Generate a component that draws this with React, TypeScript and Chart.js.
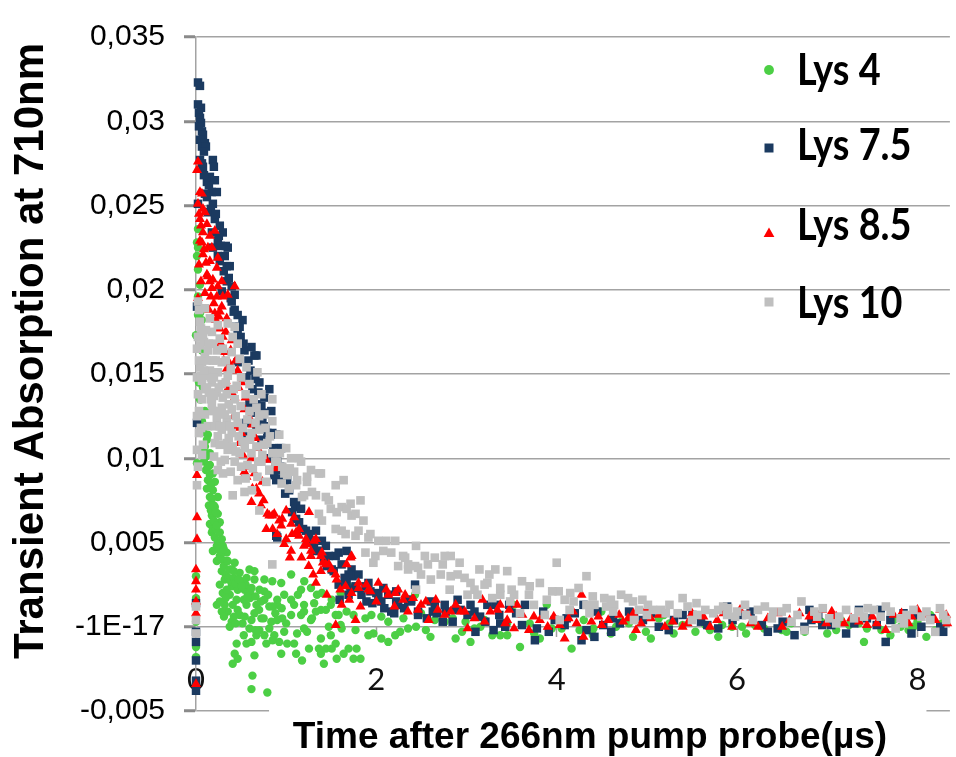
import React, { useEffect, useRef } from 'react';
import { Chart, registerables } from 'chart.js';

Chart.register(...registerables);

const seriesNames = ['Lys 4', 'Lys 7.5', 'Lys 8.5', 'Lys 10'];
const yTickValues = [-0.005, 0, 0.005, 0.01, 0.015, 0.02, 0.025, 0.03, 0.035];
const yTickLabels = ['-0,005', '-1E-17', '0,005', '0,01', '0,015', '0,02', '0,025', '0,03', '0,035'];
const xTickValues = [0, 2, 4, 6, 8];
const xTickLabels = ['0', '2', '4', '6', '8'];
const xMinorTicks = [2, 4, 6, 8];
const xTitle = 'Time after 266nm pump probe(\u00b5s)';
const yTitle = 'Transient Absorption at 710nm';

// [time (µs), absorption]
const lys4: [number, number][] = [
  [0, 0.003], [0, -0.0012], [0, 0.0017], [0, 0.0003], [0, -0.0018], [0.011, 0.0097],
  [0.022, 0.0236], [0.011, 0.0228], [0.022, 0.0225], [0.011, 0.022], [0.022, 0.0212], [0.044, 0.0203],
  [0.022, 0.0196], [0.022, 0.0185], [0.044, 0.0186], [0.066, 0.0182], [0, 0.0173], [0.044, 0.0165],
  [0.066, 0.0164], [0.099, 0.016], [0.077, 0.0142], [0.099, 0.0128], [0.066, 0.0122], [0.132, 0.0114],
  [0.121, 0.0111], [0.099, 0.0107], [0.154, 0.0103], [0.154, 0.0096], [0.187, 0.0091], [0.154, 0.009],
  [0.209, 0.0086], [0.132, 0.0087], [0.187, 0.0081], [0.242, 0.0077], [0.154, 0.0077], [0.209, 0.0071],
  [0.242, 0.0067], [0.176, 0.0066], [0.154, 0.0061], [0.264, 0.0062], [0.176, 0.0056], [0.209, 0.0053],
  [0.264, 0.0056], [0.231, 0.0048], [0.297, 0.0048], [0.187, 0.0045], [0.264, 0.0042], [0.341, 0.0044],
  [0.231, 0.0039], [0.319, 0.0039], [0.429, 0.0038], [0.286, 0.0033], [0.396, 0.0034], [0.484, 0.0032],
  [0.319, 0.0028], [0.593, 0.0034], [0.648, 0.0033], [0.264, 0.0025], [0.396, 0.0024], [0.462, 0.0022],
  [0.538, 0.0022], [0.297, 0.002], [0.374, 0.0019], [0.231, 0.0013], [0.319, 0.0013], [0.407, 0.0013],
  [0.462, 0.001], [0.56, 0.0013], [0.67, 0.0013], [0.758, 0.0016], [0.352, 0.0009], [0.484, 0.0007],
  [0.648, 0.0008], [0.813, 0.0012], [0.901, 0.0013], [0.396, 0.0003], [0.516, 0.0002], [0.615, 0.0004],
  [0.725, 0.0005], [0.835, 0.0003], [0.956, 0.0005], [1.055, 0.0007], [0.374, 0.0], [0.593, -0.0001],
  [0.703, -0.0002], [0.813, -0.0001], [0.67, -0.0005], [0.758, -0.0005], [0.868, -0.0005], [0.978, -0.0003],
  [1.121, -0.0004], [1.198, -0.0001], [1.275, 0.0004], [1.165, 0.0007], [1.198, 0.0013], [0.846, 0.0027],
  [0.758, 0.0028], [0.648, 0.0028], [1.055, 0.0031], [0.758, 0.0021], [0.901, 0.0016], [0.978, 0.0019],
  [1.088, 0.0013], [0.451, -0.001], [0.56, -0.001], [0.615, -0.0009], [0.78, -0.001], [0.923, -0.0009],
  [1.011, -0.001], [0.429, -0.0016], [0.462, -0.0019], [0.407, -0.0022], [0.648, -0.0017], [0.945, -0.0016],
  [1.11, -0.0016], [1.176, -0.002], [1.385, -0.0007], [1.495, -0.0005], [1.44, -0.0013], [1.549, -0.001],
  [1.385, -0.0016], [1.418, -0.0022], [0.626, -0.0029], [0.615, -0.0037], [0.791, -0.0039], [0.945, 0.0026],
  [1.055, 0.0016], [1.275, 0.0023], [1.341, 0.0019], [1.385, 0.001], [1.495, 0.0013], [1.549, 0.0007],
  [1.604, 0.0001], [1.165, 0.0022], [1.198, 0.0009], [1.286, 0.0005], [1.231, -0.0003], [1.088, -0.001],
  [1.253, -0.0013], [1.363, -0.0013], [1.505, -0.0013], [1.692, -0.0013], [1.56, -0.0019], [1.637, -0.0016],
  [1.747, -0.0019], [1.78, -0.0013], [1.824, -0.0019], [1.396, 0.002], [1.505, 0.0016], [1.604, 0.002],
  [1.692, 0.0024], [1.33, 0.0009], [1.44, 0.001], [1.582, 0.0007], [1.67, 0.0009], [1.747, 0.0007],
  [1.879, 0.0005], [1.945, 0.0007], [2.055, 0.0006], [2.132, 0.0003], [1.473, 0.0], [1.615, -0.0001],
  [1.769, -0.0002], [1.912, -0.0005], [2.209, -0.0005], [2.352, -0.0001], [2.44, 0.0], [2.549, -0.0002],
  [2.648, 0.0004], [2.758, 0.0003], [2.846, 0.0005], [2.989, 0.0003], [3.088, -0.0001], [3.154, 0.0],
  [3.286, -0.0005], [3.374, -0.0005], [3.451, -0.0005], [2.879, -0.0007], [3.044, -0.0009], [2.055, -0.0007],
  [2.132, -0.0009], [2.264, -0.0003], [2.495, 0.0008], [2.429, 0.0019], [1.967, -0.0004], [3.527, 0.0013],
  [3.89, 0.0013], [3.593, -0.0012], [3.813, -0.0007], [3.945, -0.0001], [4.055, -0.0001], [4.165, -0.0013],
  [4.253, -0.0002], [4.407, -0.0001], [4.495, 0.0009], [4.659, 0.0], [4.714, 0.0003], [4.846, -0.0006],
  [4.989, -0.0003], [5.044, -0.0007], [5.132, 0.0005], [5.187, 0.0007], [5.297, -0.0004], [5.396, 0.0001],
  [5.538, -0.0003], [5.648, 0.0001], [5.791, -0.0006], [5.835, 0.0001], [5.022, 0.0009], [5.945, 0.0],
  [6.055, 0.0], [6.198, 0.0001], [6.385, 0.0006], [6.495, -0.0002], [6.549, -0.0003], [6.835, 0.0005],
  [6.934, 0.0003], [7.099, -0.0002], [7.242, 0.0001], [7.407, -0.0009], [7.44, -0.0001], [7.736, 0.0004],
  [7.813, 0.0], [7.901, -0.0002], [7.956, 0.0], [8.099, -0.0006], [8.143, 0.0007], [3.7, 0.0002],
  [4.3, 0.0004], [4.6, -0.0004], [6.3, -0.0001], [7.0, -0.0004], [7.6, -0.0002], [8.27, 0.0002],
  [0.033, 0.0145], [0.044, 0.0135], [0.055, 0.0115], [0.077, 0.0105], [0.088, 0.0098], [0.11, 0.0093],
  [0.121, 0.0082], [0.143, 0.0072], [0.165, 0.0069], [0.187, 0.0058], [0.198, 0.0063], [0.22, 0.0058],
  [0.242, 0.0051], [0.253, 0.0046], [0.275, 0.0044], [0.286, 0.004], [0.308, 0.0036], [0.33, 0.0031],
  [0.363, 0.0029], [0.385, 0.0027], [0.418, 0.0029], [0.44, 0.0026], [0.5, 0.0027], [0.55, 0.0025],
  [0.6, 0.0021], [0.53, 0.0016], [0.6, 0.0017], [0.7, 0.001], [0.75, 0.0005], [0.88, 0.0008],
  [0.95, 0.0011], [1.0, 0.0002], [0.264, 0.0015], [0.286, 0.0009], [0.33, 0.0017], [0.42, 0.0006],
  [0.45, 0.0016],
  [0.055, 0.0135], [0.088, 0.0118], [0.11, 0.0101], [0.132, 0.0095], [0.165, 0.0084], [0.176, 0.0076],
  [0.198, 0.0072], [0.22, 0.0068], [0.231, 0.006], [0.286, 0.0052], [0.308, 0.0046], [0.352, 0.0039],
  [0.374, 0.0034], [0.418, 0.0033], [0.473, 0.0028], [0.506, 0.0024], [0.561, 0.0029], [0.616, 0.0023],
  [0.66, 0.0018], [0.704, 0.0022], [0.72, 0.0015], [0.8, 0.0019], [0.85, 0.0012], [0.9, 0.0004],
  [1.13, 0.0019], [1.2, 0.0027], [1.31, 0.0014], [0.34, 0.0022], [0.31, 0.0006], [0.44, 0.0002],
  [0.54, 0.0006], [0.66, -0.0002], [0.85, -0.0008], [0.53, -0.0005], [0.57, 0.0018],
  [2.3, 0.0005], [2.6, -0.0006], [2.95, -0.0003], [3.2, 0.0004], [3.45, 0.0002], [3.75, -0.0004],
  [4.0, 0.0004], [4.4, -0.0005], [4.8, 0.0002], [5.25, 0.0002], [5.7, -0.0002], [6.1, -0.0004],
  [6.6, 0.0002], [6.75, -0.0003], [7.15, 0.0004], [7.35, 0.0002], [7.7, -0.0005], [8.0, 0.0003],
  [8.2, -0.0002],
];

const lys75: [number, number][] = [
  [0, 0.0014], [0, -0.0003], [0, -0.0009], [0, -0.002], [0, -0.0032], [0, -0.0038], [0.011, 0.0121], [0.011, 0.019],
  [0.022, 0.0323], [0.044, 0.0321], [0.022, 0.031], [0.055, 0.0308], [0.033, 0.0305], [0.044, 0.0302],
  [0.055, 0.0299], [0.066, 0.0294], [0.077, 0.0292], [0.044, 0.0289], [0.099, 0.0287], [0.066, 0.0285],
  [0.11, 0.0285], [0.088, 0.0282], [0.044, 0.0277], [0.187, 0.0277], [0.198, 0.0273], [0.077, 0.0273],
  [0.154, 0.0267], [0.121, 0.0264], [0.209, 0.0265], [0.176, 0.0258], [0.231, 0.0258], [0.099, 0.0257],
  [0.187, 0.0251], [0.022, 0.0251], [0.132, 0.0246], [0.209, 0.0242], [0.264, 0.0238], [0.297, 0.0234],
  [0.176, 0.0234], [0.242, 0.0229], [0.352, 0.0225], [0.187, 0.0225], [0.319, 0.022], [0.242, 0.022],
  [0.341, 0.0214], [0.264, 0.0217], [0.396, 0.0202], [0.341, 0.0205], [0.429, 0.0197], [0.286, 0.0199],
  [0.374, 0.0214], [0.396, 0.0193], [0.516, 0.0182], [0.462, 0.0185], [0.462, 0.0173], [0.538, 0.0164],
  [0.648, 0.0161], [0.462, 0.0157], [0.56, 0.0148], [0.813, 0.0141], [0.626, 0.0141], [0.67, 0.0132],
  [0.725, 0.0131], [0.835, 0.0128], [0.56, 0.0121], [0.67, 0.0119], [0.846, 0.0115], [0.78, 0.0109],
  [0.945, 0.0106], [0.813, 0.01], [0.956, 0.0093], [0.868, 0.009], [1.011, 0.0087], [0.978, 0.0086],
  [0.89, 0.0087], [1.088, 0.0074], [1.099, 0.0071], [1.11, 0.0064], [0.901, 0.0053], [1.22, 0.0057],
  [1.286, 0.0051], [1.396, 0.0051], [1.341, 0.0045], [1.44, 0.0048], [1.582, 0.0044], [1.67, 0.0045],
  [1.549, 0.0042], [1.615, 0.0037], [1.725, 0.0034], [1.736, 0.003], [1.802, 0.0031], [1.879, 0.0024],
  [1.582, 0.0025], [1.67, 0.0026], [1.769, 0.0024], [1.912, 0.0026], [2.0, 0.002], [2.077, 0.0023],
  [2.132, 0.0019], [2.22, 0.0021], [2.429, 0.0025], [1.593, 0.0016], [1.692, 0.0019], [1.89, 0.0015],
  [2.055, 0.0015], [2.242, 0.0013], [2.352, 0.0016], [2.385, 0.0015], [2.165, 0.0009], [2.462, 0.0009],
  [2.604, 0.0015], [2.648, 0.0013], [2.758, 0.0013], [2.769, 0.0009], [2.736, 0.0003], [2.846, 0.0003],
  [2.901, 0.0016], [2.934, 0.001], [3.044, 0.0013], [3.088, 0.0009], [3.099, -0.0003], [3.209, 0.0003],
  [3.231, 0.0013], [3.319, 0.0013], [3.363, 0.0007], [3.374, 0.0002], [3.429, 0.0], [3.473, 0.0013],
  [3.615, 0.0001], [3.648, 0.0013], [3.78, -0.0001], [3.758, -0.0008], [3.912, -0.0003], [3.978, 0.0004],
  [4.088, 0.0001], [4.11, 0.0005], [4.297, 0.0013], [4.275, -0.0008], [4.33, -0.0002], [4.418, -0.0006],
  [4.516, 0.0001], [4.604, -0.0003], [4.626, 0.0005], [4.802, 0.0009], [4.857, 0.0006], [4.956, 0.0004],
  [5.132, 0.0], [5.242, -0.0002], [5.396, 0.0007], [5.505, 0.0007], [5.67, 0.0001], [5.791, -0.0001],
  [5.89, 0.0012], [6.055, 0.0007], [6.275, 0.0001], [6.341, -0.0003], [6.505, 0.0003], [6.637, -0.0005],
  [6.747, 0.0], [6.802, 0.001], [6.824, 0.0004], [6.945, 0.0001], [7.044, 0.0001], [7.209, -0.0004],
  [7.352, 0.001], [7.44, 0.0005], [7.549, 0.0001], [7.593, 0.001], [7.648, -0.0009], [7.846, 0.0008],
  [7.934, -0.0004], [7.989, 0.0007], [8.044, 0.0], [8.253, 0.0], [8.286, -0.0003],
  [0.571, 0.0113], [0.725, 0.0111], [0.791, 0.0115], [0.923, 0.0106], [0.956, 0.0088], [1.11, 0.0073],
  [1.165, 0.007], [0.89, 0.0054], [1.33, 0.0057], [1.363, 0.0045], [1.473, 0.0042], [1.505, 0.0034],
  [1.692, 0.0031], [1.769, 0.0023], [1.934, 0.0021], [2.022, 0.0019], [2.22, 0.0015], [2.385, 0.0016],
  [2.462, 0.0007], [2.626, 0.0009], [2.879, 0.001], [3.011, 0.0007], [0.429, 0.0188], [0.484, 0.0178],
  [0.615, 0.0166], [0.67, 0.0161], [0.703, 0.0145], [0.758, 0.0136], [0.593, 0.0132], [0.67, 0.0127],
  [0.736, 0.0123], [0.89, 0.0114], [0.901, 0.01], [0.813, 0.0093],
  [0.033, 0.0297], [0.066, 0.0275], [0.088, 0.0268], [0.121, 0.0255], [0.143, 0.0262], [0.165, 0.0248],
  [0.22, 0.0245], [0.253, 0.0232], [0.275, 0.0226], [0.308, 0.0211], [0.33, 0.0226], [0.363, 0.0207],
  [0.385, 0.0195], [0.418, 0.0187], [0.44, 0.0178], [0.495, 0.0172], [0.527, 0.0168], [0.582, 0.0158],
  [0.604, 0.0152], [0.659, 0.0147], [0.692, 0.0139], [0.747, 0.0127], [0.769, 0.0119], [0.857, 0.0106],
  [0.879, 0.0098], [0.934, 0.0095], [0.989, 0.0079], [1.033, 0.0081], [1.066, 0.0068], [1.143, 0.0062],
  [1.187, 0.0058], [1.253, 0.0055], [1.308, 0.0047], [1.418, 0.0041], [1.451, 0.0036], [1.527, 0.0033],
  [1.648, 0.0029], [1.714, 0.0022], [1.835, 0.0019], [1.956, 0.0014], [2.088, 0.0011], [2.198, 0.0008],
  [2.308, 0.0011], [2.56, 0.0005], [2.67, 0.0008],
  [3.15, 0.0006], [3.3, -0.0002], [3.55, 0.0008], [3.85, 0.0009], [4.2, 0.0008], [4.45, 0.0009],
  [4.7, 0.0002], [5.05, 0.0008], [5.3, 0.0004], [5.6, 0.0003], [5.95, 0.0004], [6.15, 0.0009],
  [6.45, -0.0001], [6.9, 0.0007], [7.1, 0.0005], [7.3, 0.0002], [7.7, 0.0004], [8.15, 0.0005],
];

const lys85: [number, number][] = [
  [0, 0.0034], [0, 0.0027], [0, 0.0022], [0, 0.0015], [0, 0.0008], [0, -0.0034], [0.011, 0.009],
  [0.022, 0.0276], [0.011, 0.0271], [0.044, 0.0258], [0.066, 0.0257], [0.022, 0.0251], [0.077, 0.0248],
  [0.099, 0.0246], [0.044, 0.0242], [0.121, 0.0239], [0.077, 0.0234], [0.154, 0.0232], [0.209, 0.0235],
  [0.044, 0.0229], [0.132, 0.0225], [0.176, 0.0225], [0.077, 0.0221], [0.242, 0.0219], [0.154, 0.0217],
  [0.231, 0.0213], [0.121, 0.0209], [0.187, 0.0206], [0.286, 0.0205], [0.429, 0.0202], [0.242, 0.0202],
  [0.352, 0.0197], [0.297, 0.0196], [0.231, 0.0196], [0.286, 0.019], [0.209, 0.0186], [0.341, 0.0183],
  [0.264, 0.0177], [0.297, 0.0172], [0.396, 0.017], [0.319, 0.0163], [0.374, 0.0156], [0.341, 0.0153],
  [0.462, 0.0152], [0.505, 0.0145], [0.429, 0.0136], [0.538, 0.0129], [0.593, 0.0124], [0.626, 0.012],
  [0.505, 0.0115], [0.681, 0.0106], [0.615, 0.01], [0.78, 0.0099], [0.538, 0.009], [0.89, 0.0094],
  [0.56, 0.0089], [0.626, 0.0082], [0.615, 0.0074], [0.813, 0.0066], [0.868, 0.0067], [0.956, 0.0064],
  [1.088, 0.0065], [0.945, 0.006], [1.066, 0.0055], [1.143, 0.0058], [1.253, 0.0068], [0.978, 0.0049],
  [1.055, 0.0045], [1.231, 0.0049], [1.308, 0.0051], [1.143, 0.0054], [1.198, 0.0048], [1.33, 0.0052],
  [1.396, 0.0044], [1.275, 0.0042], [1.407, 0.0038], [1.473, 0.0037], [1.714, 0.0041], [1.505, 0.0034],
  [1.385, 0.0033], [1.33, 0.0026], [1.56, 0.0028], [1.67, 0.0037], [1.725, 0.0042], [1.451, 0.0019],
  [1.725, 0.002], [1.802, 0.0023], [1.89, 0.0025], [2.022, 0.0026], [1.934, 0.0021], [2.132, 0.0019],
  [2.242, 0.0022], [2.297, 0.0016], [2.407, 0.0017], [1.615, 0.0013], [1.824, 0.0012], [2.495, 0.0013],
  [2.659, 0.0016], [2.758, 0.0007], [2.824, 0.0009], [2.879, 0.0013], [3.011, -0.0001], [3.088, 0.0005],
  [3.176, 0.0016], [3.264, 0.0009], [3.341, 0.001], [3.429, 0.0002], [3.527, -0.0001], [1.549, 0.0001],
  [1.769, 0.0004], [3.374, 0.0013], [3.473, 0.001], [3.56, 0.0013], [3.451, 0.0004], [3.692, -0.0002],
  [3.747, 0.0006], [3.813, 0.0004], [3.967, 0.0006], [4.033, 0.0001], [4.088, -0.0007], [4.132, 0.0005],
  [4.22, 0.0002], [4.275, 0.0019], [4.297, -0.0006], [4.385, 0.0003], [4.462, 0.0006], [4.571, 0.0004],
  [4.692, 0.0007], [4.736, 0.0003], [4.791, 0.0005], [4.879, -0.0002], [4.934, 0.0002], [4.989, 0.001],
  [5.044, 0.0005], [5.132, 0.0007], [5.286, 0.0003], [5.396, 0.0], [5.451, 0.0002], [5.626, 0.0006],
  [5.78, 0.0004], [5.945, 0.0], [6.033, 0.001], [6.121, 0.0007], [6.231, 0.0], [6.341, 0.0005],
  [6.451, 0.0008], [6.582, 0.0004], [6.692, 0.0008], [6.802, 0.0006], [6.945, 0.001], [6.989, 0.0002],
  [7.099, 0.0006], [7.187, 0.0002], [7.264, 0.0005], [7.352, 0.0003], [7.44, 0.0001], [7.549, 0.0002],
  [7.648, -0.0002], [7.736, 0.0007], [7.824, 0.0008], [7.934, 0.0006], [8.099, 0.0007], [8.198, 0.0004],
  [8.253, 0.001], [8.319, 0.0007],
  [0.538, 0.0092], [0.736, 0.0086], [0.67, 0.0082], [0.791, 0.0067], [0.846, 0.0066], [0.923, 0.0063],
  [1.0, 0.0069], [0.78, 0.0058], [1.055, 0.0061], [1.11, 0.0056], [1.22, 0.0052], [1.275, 0.0045],
  [1.385, 0.0042], [1.44, 0.0037], [1.549, 0.0031], [1.659, 0.0024], [1.802, 0.0026], [1.912, 0.0022],
  [2.11, 0.0022], [2.209, 0.002], [2.319, 0.0019], [2.462, 0.001], [2.549, 0.0015], [2.681, 0.001],
  [2.934, 0.0009], [0.011, 0.0065], [0.011, 0.0052], [0.022, 0.0195], [0.033, 0.0215], [0.055, 0.0205],
  [0.099, 0.0198], [0.143, 0.0188], [0.165, 0.0196], [0.264, 0.0187], [0.33, 0.0175], [0.385, 0.0164],
  [0.44, 0.0158], [0.473, 0.0142], [0.55, 0.0136], [0.66, 0.0112],
  [0.033, 0.0245], [0.055, 0.0238], [0.066, 0.0228], [0.088, 0.0224], [0.11, 0.0216], [0.132, 0.0208],
  [0.154, 0.0205], [0.176, 0.0201], [0.198, 0.0192], [0.22, 0.0182], [0.253, 0.0184], [0.275, 0.0168],
  [0.308, 0.0158], [0.33, 0.0146], [0.36, 0.0142], [0.395, 0.0139], [0.42, 0.0125], [0.45, 0.0118],
  [0.48, 0.0109], [0.52, 0.0102], [0.58, 0.0095], [0.65, 0.0091], [0.7, 0.0079], [0.72, 0.0072],
  [0.75, 0.0075], [0.85, 0.0058], [0.9, 0.0055], [1.0, 0.0052], [1.04, 0.0041], [1.17, 0.0041],
  [1.25, 0.0036], [1.3, 0.0031], [1.6, 0.0022], [1.7, 0.0016], [2.0, 0.0015], [2.2, 0.0012], [2.35, 0.0009],
  [2.58, 0.0004], [2.98, 0.0009], [3.2, 0.0003], [3.62, 0.0007], [3.9, 0.0], [4.18, 0.0009],
  [4.5, 0.0001], [4.85, 0.0008], [5.2, 0.0], [5.5, 0.0008], [5.7, 0.0], [5.85, 0.0008],
  [6.15, 0.0002], [6.5, 0.0], [6.88, 0.0004], [7.05, 0.0009], [7.5, 0.0006], [7.9, 0.0002],
  [8.0, 0.001], [8.33, 0.0002],
];

const lys10: [number, number][] = [
  [0, 0.0012], [0, 0.0004], [0, -0.0004], [0.011, 0.0084], [0.011, 0.0125],
  [0.022, 0.0193], [0.099, 0.0189], [0.044, 0.0181], [0.154, 0.0183], [0.242, 0.0179], [0.352, 0.018],
  [0.429, 0.0178], [0.077, 0.0173], [0.176, 0.0175], [0.264, 0.0171], [0.407, 0.0172], [0.462, 0.0168],
  [0.044, 0.0167], [0.132, 0.0164], [0.231, 0.0164], [0.396, 0.0163], [0.099, 0.016], [0.187, 0.0158],
  [0.286, 0.0157], [0.484, 0.0159], [0.56, 0.0154], [0.044, 0.0154], [0.154, 0.0152], [0.242, 0.0151],
  [0.352, 0.0149], [0.681, 0.0151], [0.066, 0.0146], [0.176, 0.0145], [0.286, 0.0144], [0.451, 0.0143],
  [0.593, 0.0144], [0.099, 0.0141], [0.231, 0.0139], [0.341, 0.0138], [0.429, 0.0135], [0.725, 0.0138],
  [0.846, 0.0135], [0.066, 0.0135], [0.176, 0.0132], [0.286, 0.013], [0.396, 0.0129], [0.593, 0.0128],
  [0.67, 0.013], [0.758, 0.0126], [0.099, 0.0126], [0.231, 0.0124], [0.341, 0.0123], [0.462, 0.0121],
  [0.846, 0.0122], [0.132, 0.0119], [0.286, 0.0117], [0.396, 0.0115], [0.615, 0.0115], [0.703, 0.0117],
  [0.923, 0.0114], [0.242, 0.0113], [0.209, 0.0109], [0.341, 0.0109], [0.516, 0.011], [0.67, 0.0107],
  [0.791, 0.0109], [1.0, 0.0106], [0.352, 0.0105], [0.484, 0.0103], [0.615, 0.0103], [0.736, 0.0102],
  [0.846, 0.0103], [0.319, 0.0099], [0.429, 0.0098], [0.571, 0.0096], [0.725, 0.0098], [0.813, 0.0093],
  [0.956, 0.0095], [1.055, 0.01], [0.242, 0.0093], [1.088, 0.0092], [0.681, 0.0089], [1.011, 0.009],
  [0.78, 0.0086], [1.121, 0.0087], [0.407, 0.0078], [0.538, 0.008], [0.703, 0.0069], [0.846, 0.0037],
  [1.143, 0.01], [1.231, 0.0089], [1.275, 0.0093], [1.385, 0.0091], [1.11, 0.0084], [1.198, 0.0078],
  [1.33, 0.0078], [1.44, 0.0077], [1.549, 0.0084], [1.637, 0.0087], [1.495, 0.007], [1.615, 0.0071],
  [1.714, 0.0073], [1.824, 0.0075], [1.725, 0.0066], [1.857, 0.0063], [1.549, 0.0058], [1.659, 0.0055],
  [1.769, 0.0054], [1.912, 0.0053], [2.022, 0.0051], [2.11, 0.0051], [2.209, 0.0051], [2.077, 0.0045],
  [2.165, 0.0044], [2.297, 0.0042], [2.44, 0.0048], [2.538, 0.0042], [2.648, 0.0041], [2.758, 0.0042],
  [2.824, 0.0042], [1.879, 0.0044], [2.242, 0.0036], [2.352, 0.0037], [2.462, 0.0035], [2.571, 0.0037],
  [2.604, 0.0028], [2.714, 0.0031], [2.824, 0.003], [2.901, 0.0031], [2.978, 0.0029], [3.044, 0.0026],
  [3.011, 0.0019], [3.088, 0.0022], [1.165, 0.0098], [1.363, 0.0091], [1.231, 0.0086], [1.286, 0.008],
  [1.176, 0.0077], [1.473, 0.0075], [1.67, 0.007], [1.56, 0.0068], [1.363, 0.0067], [1.769, 0.0067],
  [1.396, 0.0063], [1.615, 0.0057], [1.802, 0.0057], [1.934, 0.0055], [2.923, 0.0038], [2.319, 0.0041],
  [1.989, 0.0042], [1.967, 0.0038], [2.429, 0.0036], [2.736, 0.0037], [2.352, 0.0034], [2.495, 0.0031],
  [3.143, 0.0034], [3.253, 0.0031], [3.319, 0.0034], [3.451, 0.0033], [3.231, 0.0026], [2.813, 0.0022],
  [3.121, 0.0019], [3.286, 0.0017], [3.374, 0.0019], [3.527, 0.0019], [2.44, 0.0022], [4.0, 0.0038],
  [4.33, 0.003], [3.615, 0.0027], [3.374, 0.0023], [4.242, 0.0023], [3.813, 0.0026], [3.692, 0.0019],
  [3.89, 0.0016], [4.022, 0.0021], [4.088, 0.0016], [4.187, 0.0015], [4.527, 0.0017], [4.714, 0.0019],
  [4.791, 0.0017], [5.396, 0.0017], [3.484, 0.0015], [3.747, 0.0013], [4.33, 0.0013], [4.418, 0.0013],
  [4.549, 0.0012], [4.637, 0.0013], [4.846, 0.0015], [5.011, 0.0013], [5.154, 0.001], [5.451, 0.0012],
  [5.648, 0.001], [5.736, 0.0008], [5.846, 0.0012], [3.593, 0.0008], [3.868, 0.0007], [4.143, 0.001],
  [4.363, 0.0008], [4.626, 0.0009], [4.912, 0.001], [5.066, 0.001], [5.209, 0.0008], [5.341, 0.0008],
  [5.56, 0.0007], [4.033, 0.0004], [4.857, 0.0004], [5.791, 0.001], [6.088, 0.0013], [6.231, 0.001],
  [6.308, 0.0012], [6.714, 0.0015], [6.857, 0.0009], [7.209, 0.001], [7.516, 0.001], [7.703, 0.0009],
  [7.956, 0.001], [5.89, 0.0007], [5.978, 0.0006], [6.176, 0.0004], [6.385, 0.0005], [6.495, 0.0009],
  [6.604, 0.0003], [6.67, 0.0007], [6.89, 0.0006], [7.022, 0.0005], [7.132, 0.0006], [7.297, 0.0005],
  [7.407, 0.0006], [7.593, 0.0006], [7.813, 0.0005], [7.879, 0.0007], [8.044, 0.0006], [8.143, 0.0004],
  [8.286, 0.0007], [8.319, 0.0004], [6.747, -0.0002], [7.758, -0.0001], [8.198, -0.0003],
  [0.033, 0.0188], [0.055, 0.0177], [0.088, 0.0169], [0.121, 0.0158], [0.165, 0.0148], [0.198, 0.0137],
  [0.253, 0.0128], [0.308, 0.0119], [0.363, 0.0112], [0.44, 0.0104], [0.5, 0.0095], [0.55, 0.0088],
  [0.62, 0.0081], [0.011, 0.0165], [0.011, 0.0148], [0.022, 0.0138], [0.033, 0.0128], [0.055, 0.0118],
  [0.077, 0.0108], [0.066, 0.0157], [0.11, 0.0149], [0.143, 0.0139], [0.187, 0.0128], [0.209, 0.0119],
  [0.264, 0.0108], [0.275, 0.0098], [0.385, 0.0092], [0.462, 0.0087], [0.11, 0.0176], [0.187, 0.0168],
  [0.297, 0.0165], [0.33, 0.0158], [0.385, 0.0153], [0.5, 0.0148], [0.55, 0.0138], [0.64, 0.0135],
  [0.7, 0.0125], [0.77, 0.0118], [0.9, 0.0098], [0.95, 0.0085], [1.03, 0.0082],
  [0.022, 0.0172], [0.033, 0.0158], [0.055, 0.0149], [0.088, 0.0152], [0.121, 0.0142], [0.143, 0.0168],
  [0.165, 0.0135], [0.198, 0.0148], [0.22, 0.0158], [0.253, 0.0142], [0.264, 0.0119], [0.297, 0.0136],
  [0.319, 0.0126], [0.33, 0.0145], [0.363, 0.0132], [0.374, 0.0119], [0.407, 0.0107], [0.418, 0.0141],
  [0.44, 0.0125], [0.473, 0.0113], [0.495, 0.0131], [0.52, 0.0118], [0.54, 0.0106], [0.57, 0.0123],
  [0.6, 0.0111], [0.63, 0.0094], [0.66, 0.0121], [0.69, 0.0098], [0.75, 0.0108], [0.82, 0.0113],
  [0.88, 0.0098], [0.93, 0.0103], [0.98, 0.0091], [1.04, 0.0094], [0.2, 0.0101], [0.3, 0.0091],
  [0.011, 0.0105], [0.022, 0.0095], [0.033, 0.0115], [0.066, 0.0102],
  [3.2, 0.0025], [3.5, 0.0022], [3.7, 0.0024], [3.95, 0.0021], [4.15, 0.002], [4.4, 0.0018],
  [4.6, 0.0016], [4.95, 0.0016], [5.25, 0.0013], [5.55, 0.0014], [5.9, 0.0011], [6.0, 0.0009],
  [6.4, 0.0009], [6.55, 0.0011], [6.95, 0.0011], [7.35, 0.0009], [7.45, 0.0011], [7.65, 0.0012],
  [8.1, 0.0009], [8.25, 0.0011], [5.0, 0.0007], [5.5, 0.0004], [6.1, 0.0007], [7.1, 0.0002], [7.85, 0.0002],
];

const seriesData = [lys4, lys75, lys85, lys10];
const seriesColors = ['#4ccf45', '#1b3a60', '#ff0000', '#bfbfbf'];
const seriesShapes = ['circle', 'rect', 'triangle', 'rect'];
const seriesRadius = [4.2, 6, 5.8, 6.1];
const seriesOrder = [4, 3, 2, 1];

const SANS = '"Liberation Sans", Arial, sans-serif';
const CAL = 'Lato, "Open Sans", sans-serif';

const legendPlugin = {
  id: 'customLegend',
  afterDatasetsDraw(chart: any, _args: any, opts: any) {
    const ctx = chart.ctx as CanvasRenderingContext2D;
    ctx.save();
    chart.data.datasets.forEach((ds: any, i: number) => {
      const my = opts.markerY[i];
      const mx = opts.markerX;
      const r = opts.markerSize;
      ctx.fillStyle = ds.pointBackgroundColor;
      ctx.beginPath();
      if (ds.pointStyle === 'circle') {
        ctx.arc(mx, my, r * 0.55, 0, Math.PI * 2);
      } else if (ds.pointStyle === 'triangle') {
        ctx.moveTo(mx, my - r * 0.6);
        ctx.lineTo(mx + r * 0.6, my + r * 0.45);
        ctx.lineTo(mx - r * 0.6, my + r * 0.45);
        ctx.closePath();
      } else {
        ctx.rect(mx - r / 2, my - r / 2, r, r);
      }
      ctx.fill();
      ctx.save();
      ctx.translate(opts.textX, opts.baseY[i]);
      ctx.scale(opts.squeeze, 1);
      ctx.fillStyle = '#000';
      ctx.font = `bold ${opts.fontSize}px ${CAL}`;
      ctx.textBaseline = 'alphabetic';
      ctx.textAlign = 'left';
      ctx.fillText(ds.label, 0, 0);
      ctx.restore();
    });
    ctx.restore();
  },
};

const titlesPlugin = {
  id: 'axisTitles',
  afterDraw(chart: any, _args: any, opts: any) {
    const ctx = chart.ctx as CanvasRenderingContext2D;
    ctx.save();
    ctx.fillStyle = '#000';
    ctx.textAlign = 'center';
    ctx.textBaseline = 'middle';
    ctx.font = `bold ${opts.xSize}px ${SANS}`;
    ctx.fillText(xTitle, opts.xCenter[0], opts.xCenter[1]);
    ctx.translate(opts.yCenter[0], opts.yCenter[1]);
    ctx.rotate(-Math.PI / 2);
    ctx.font = `bold ${opts.ySize}px ${SANS}`;
    ctx.fillText(yTitle, 0, 0);
    ctx.restore();
  },
};

const maskPlugin = {
  id: 'bottomMask',
  beforeDatasetsDraw(chart: any, _args: any, opts: any) {
    const ctx = chart.ctx as CanvasRenderingContext2D;
    const xs = chart.scales.x;
    const ys = chart.scales.y;
    const x1 = xs.getPixelForValue(opts.from);
    const x2 = xs.getPixelForValue(opts.to);
    const yb = ys.getPixelForValue(ys.min);
    ctx.save();
    ctx.fillStyle = '#ffffff';
    ctx.fillRect(x1, yb - 3, x2 - x1, 6);
    ctx.restore();
  },
};

export default function App() {
  const canvasRef = useRef<HTMLCanvasElement | null>(null);

  useEffect(() => {
    const canvas = canvasRef.current;
    if (!canvas) return;
    const datasets = seriesNames.map((name, i) => ({
      label: name,
      data: seriesData[i].map(([x, y]) => ({ x, y })),
      pointStyle: seriesShapes[i],
      pointRadius: seriesRadius[i],
      pointHoverRadius: seriesRadius[i],
      pointBackgroundColor: seriesColors[i],
      pointBorderColor: seriesColors[i],
      pointBorderWidth: 0,
      showLine: false,
      order: seriesOrder[i],
      clip: false as any,
    }));

    const chart = new Chart(canvas, {
      type: 'scatter',
      data: { datasets } as any,
      plugins: [maskPlugin, legendPlugin, titlesPlugin],
      options: {
        animation: false,
        responsive: false,
        events: [],
        layout: { padding: { top: 23, right: 0, bottom: 0, left: 0 } },
        plugins: {
          legend: { display: false },
          tooltip: { enabled: false },
          customLegend: {
            markerX: 769,
            textX: 797,
            markerY: [70, 148, 233, 302],
            baseY: [85, 160, 240, 318],
            markerSize: 9,
            fontSize: 44,
            squeeze: 0.86,
          },
          axisTitles: {
            xCenter: [590, 738],
            xSize: 37,
            yCenter: [31, 351],
            ySize: 42,
          },
          bottomMask: { from: 0.81, to: 8.1 },
        } as any,
        scales: {
          x: {
            type: 'linear',
            position: 'bottom',
            min: 0,
            max: 8.36,
            afterBuildTicks: (s: any) => {
              s.ticks = xTickValues.map((v) => ({ value: v }));
            },
            afterFit: (s: any) => {
              s.height = 46;
            },
            grid: { display: false, drawTicks: false },
            border: { display: false },
            ticks: {
              mirror: true,
              padding: 12,
              autoSkip: false,
              maxRotation: 0,
              color: '#111',
              font: { family: CAL, size: 31 },
              callback: (v: any) => {
                const i = xTickValues.indexOf(Number(v));
                return i >= 0 ? xTickLabels[i] : '';
              },
            },
            title: { display: false },
          },
          x2: {
            type: 'linear',
            position: { y: 0 } as any,
            min: 0,
            max: 8.36,
            afterBuildTicks: (s: any) => {
              s.ticks = xMinorTicks.map((v) => ({ value: v }));
            },
            grid: {
              drawOnChartArea: false,
              drawTicks: true,
              tickLength: 10,
              tickColor: '#a0a0a0',
              tickWidth: 1.5,
            },
            border: { display: false },
            ticks: { display: false },
          },
          y: {
            type: 'linear',
            position: 'left',
            min: -0.005,
            max: 0.035,
            afterBuildTicks: (s: any) => {
              s.ticks = yTickValues.map((v) => ({ value: v }));
            },
            afterFit: (s: any) => {
              s.width = 196;
            },
            grid: {
              color: '#a3a3a3',
              lineWidth: 1.5,
              tickColor: '#8a8a8a',
              tickWidth: 3,
              tickLength: 12,
            },
            border: { display: true, color: '#a3a3a3', width: 1.5 },
            ticks: {
              padding: 19,
              color: '#000',
              font: { family: SANS, size: 30 },
              callback: (v: any) => {
                const i = yTickValues.indexOf(Number(v));
                return i >= 0 ? yTickLabels[i] : '';
              },
            },
            title: { display: false },
          },
        },
      } as any,
    });
    return () => chart.destroy();
  }, []);

  return (
    <div style={{ position: 'absolute', left: 0, top: 0, width: 956, height: 757, background: '#fff' }}>
      <canvas ref={canvasRef} width={956} height={757} style={{ display: 'block', width: 956, height: 757 }} />
    </div>
  );
}
